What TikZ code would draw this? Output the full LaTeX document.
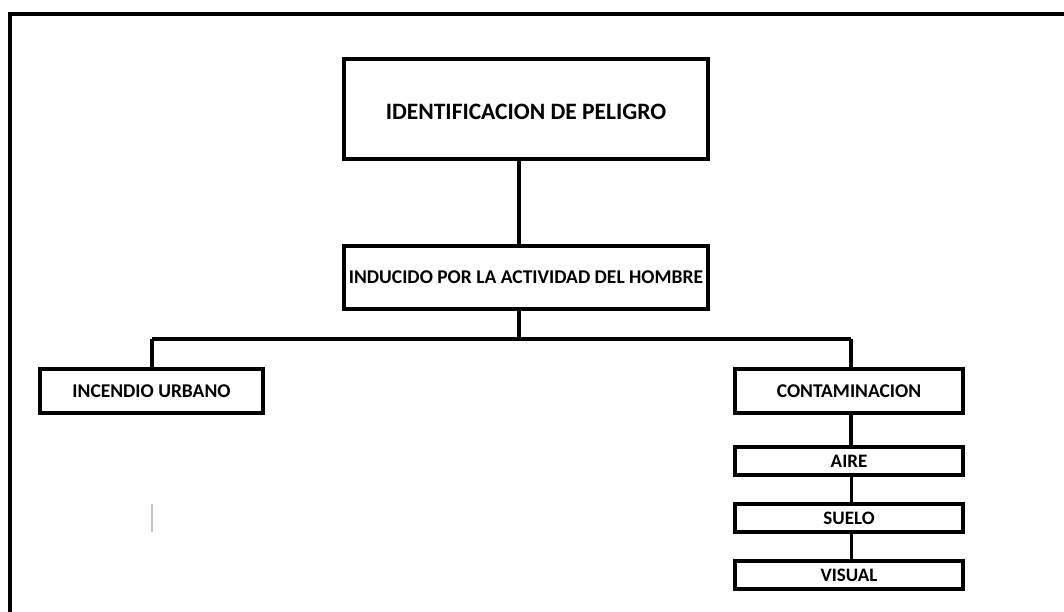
\documentclass[tikz,border=0pt]{standalone}
\usepackage{fontspec}
\setmainfont{Carlito}
\begin{document}
\begin{tikzpicture}[x=1pt,y=-1pt,
  box/.style={draw, line width=4pt, rectangle, inner sep=0pt, font=\bfseries\fontsize{19.5}{23}\selectfont},
  smallbox/.style={box, minimum width=228pt, minimum height=28pt, line width=3.5pt, font=\bfseries\fontsize{19}{23}\selectfont},
  conn/.style={line width=4pt},
  thinconn/.style={line width=3pt}]
\useasboundingbox (0,0) rectangle (1064,612);
\fill[white] (0,0) rectangle (1064,612);
% frame
\draw[line width=4pt] (10,612) -- (10,14) -- (1064,14);
% nodes
\node[box, minimum width=364pt, minimum height=100pt, font=\bfseries\fontsize{23.5}{28}\selectfont, text height=21pt, text depth=0pt] (top) at (526,109) {IDENTIFICACION DE PELIGRO};
\node[box, minimum width=364pt, minimum height=63pt] (ind) at (526,277.5) {INDUCIDO POR LA ACTIVIDAD DEL HOMBRE};
\node[box, minimum width=223pt, minimum height=44pt] (inc) at (151.5,391) {INCENDIO URBANO};
\node[box, minimum width=228pt, minimum height=44pt] (con) at (849,391) {CONTAMINACION};
\node[smallbox] (aire) at (849,461) {AIRE};
\node[smallbox] (suelo) at (849,518) {SUELO};
\node[smallbox] (visual) at (849,575) {VISUAL};
\coordinate (hl) at (152,339);
\coordinate (hr) at (851,339);
% connectors
\draw[conn] ([xshift=-7.5pt]top.south) -- ([xshift=-7.5pt]ind.north);
\draw[conn] ([xshift=-7.5pt]ind.south) -- ([xshift=-7.5pt]ind.south |- hl);
\draw[conn] (hl) -- (hr);
\draw[conn] (hl) -- (hl |- inc.north);
\draw[conn] (hr) -- (hr |- con.north);
\draw[conn] (hr |- con.south) -- (hr |- aire.north);
\draw[thinconn] (hr |- aire.south) -- (hr |- suelo.north);
\draw[thinconn] (hr |- suelo.south) -- (hr |- visual.north);
% faint gray mark
\draw[line width=2pt, gray!45] (152,504) -- (152,532);
\end{tikzpicture}
\end{document}
